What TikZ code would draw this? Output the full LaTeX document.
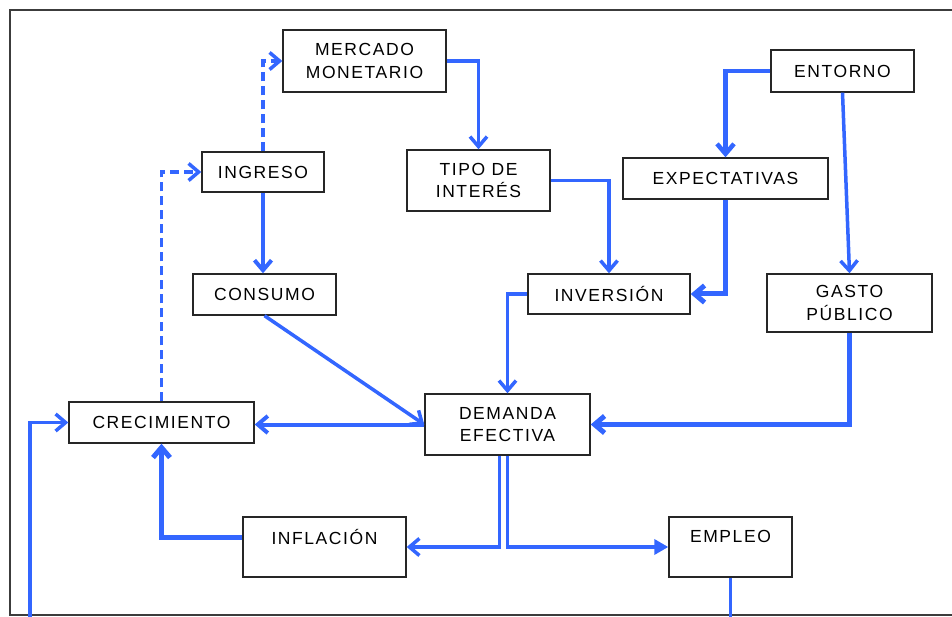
\documentclass[tikz,border=0pt]{standalone}
\usepackage{fontspec}
\setmainfont{Liberation Sans}[LetterSpace=9]
\usetikzlibrary{arrows.meta}
\definecolor{flow}{RGB}{51,102,255}
\definecolor{framec}{RGB}{60,60,60}
\begin{document}
\begin{tikzpicture}[x=1pt,y=-1pt,
  box/.style={draw=black!85,line width=1.4pt,fill=white,inner sep=0pt,align=center,
    font=\fontsize{17.5}{22.5}\selectfont},
  link/.style={draw=flow,line width=3.5pt,-{Straight Barb[length=10pt,width=17pt]}},
  heavy/.style={link,line width=5pt},
  dlink/.style={link,dash pattern=on 9pt off 5pt},
  filled/.style={draw=flow,line width=3.5pt,-{Triangle[length=14pt,width=15pt]}},
  plain/.style={draw=flow,line width=3.5pt}
]
\useasboundingbox (0,0) rectangle (952,617);
% frame
\draw[framec,line width=1.5pt] (952,10) -- (10,10) -- (10,615) -- (952,615);

% boxes
\node[box,minimum width=163pt,minimum height=62pt] (mer) at (364.5,61) {MERCADO\\MONETARIO};
\node[box,minimum width=122pt,minimum height=40pt] (ing) at (263,172) {INGRESO};
\node[box,minimum width=143pt,minimum height=61pt] (tipo) at (478.5,180.5) {TIPO DE\\INTERÉS};
\node[box,minimum width=143pt,minimum height=42pt] (ent) at (842.5,71) {ENTORNO};
\node[box,minimum width=205pt,minimum height=41pt] (exp) at (725.5,178.5) {EXPECTATIVAS};
\node[box,minimum width=143pt,minimum height=41pt] (con) at (264.5,294.5) {CONSUMO};
\node[box,minimum width=162pt,minimum height=40pt] (inv) at (609,294) {INVERSIÓN};
\node[box,minimum width=165pt,minimum height=58pt] (gas) at (849.5,303) {GASTO\\PÚBLICO};
\node[box,minimum width=165pt,minimum height=61pt] (dem) at (507.5,424.5) {DEMANDA\\EFECTIVA};
\node[box,minimum width=185pt,minimum height=41pt] (cre) at (161.5,422.5) {CRECIMIENTO};
\node[box,minimum width=163pt,minimum height=60pt] (inf) at (324.5,547) {INFLACIÓN\\[-9pt]\strut};
\node[box,minimum width=123pt,minimum height=60pt] (emp) at (730.5,547) {EMPLEO\\[-9pt]\strut};

\coordinate (lb) at (30,617);
\coordinate (eb) at (730.5,617);

% connectors
\draw[dlink] (ing.north) |- (mer.west);
\draw[dlink] (cre.north) |- (ing.west);
\draw[link,line width=4pt] (ing.south) -- (ing.south |- con.north);
\draw[link] (mer.east) -| (tipo.north);
\draw[link] (tipo.east) -| (inv.north);
\draw[heavy,line width=4.5pt] (ent.west) -| (exp.north);
\draw[link] (ent.south) -- (gas.north);
\draw[heavy] (exp.south) |- (inv.east);
\draw[link] (inv.west) -| (dem.north);
\draw[link] (con.south) -- (dem.west);
\draw[link,line width=4pt] (dem.west) -- (cre.east |- dem.west);
\draw[heavy] (gas.south) |- (dem.east);
\draw[link] ([xshift=-8pt]dem.south) |- (inf.east);
\draw[filled] (dem.south) |- (emp.west);
\draw[heavy] ([yshift=10pt]inf.west) -| (cre.south);
\draw[link] (lb) |- (cre.west);
\draw[plain] (emp.south) -- (eb);
\end{tikzpicture}
\end{document}
